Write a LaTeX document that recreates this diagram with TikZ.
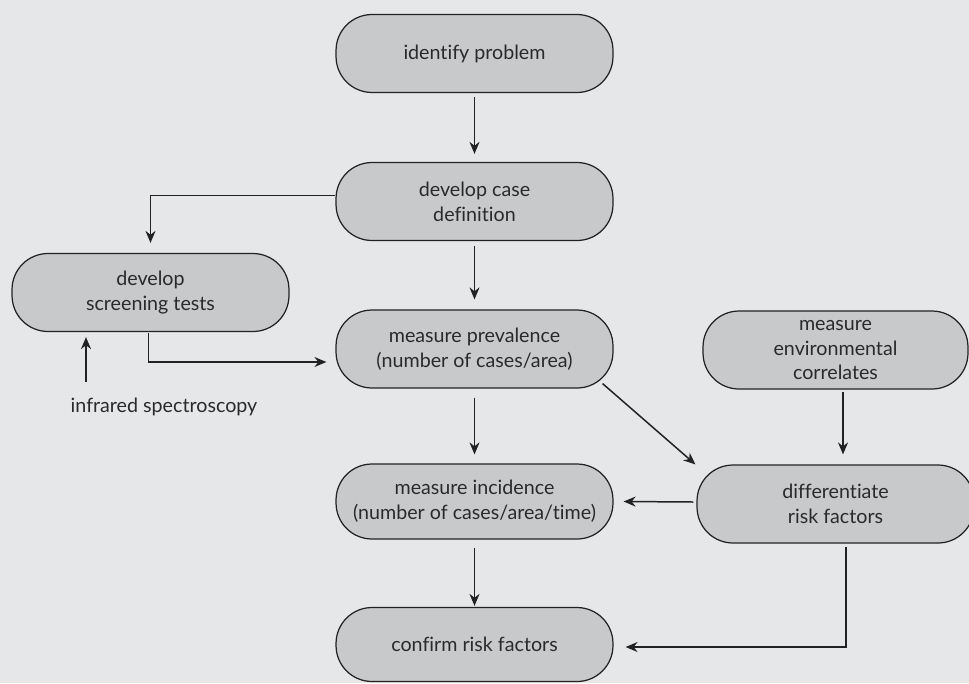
\documentclass[tikz,border=0pt]{standalone}
\usepackage{fontspec}
\setmainfont{Lato}[Ligatures=NoCommon]
\usetikzlibrary{arrows.meta,calc}
\definecolor{bgc}{HTML}{E6E7E9}
\definecolor{boxc}{HTML}{C8C9CB}
\definecolor{txtc}{HTML}{2A2A2A}
\definecolor{linec}{HTML}{222222}
\tikzset{
  stepbox/.style={draw=linec, line width=0.7pt, fill=boxc, rounded corners=0.72cm,
    minimum width=5.54cm, minimum height=1.56cm, align=center, text=txtc,
    font=\fontsize{11.2}{14.2}\selectfont, inner sep=0pt},
  arr/.style={draw=linec, line width=0.85pt, -{Stealth[length=0.24cm,width=0.2cm]}},
  plain/.style={font=\fontsize{11.2}{14.2}\selectfont, text=txtc, inner sep=0pt}
}
\begin{document}
\begin{tikzpicture}[x=0.02cm,y=-0.02cm]
\fill[bgc] (0,0) rectangle (969,683);
\useasboundingbox (0,0) rectangle (969,683);

\node[stepbox] (ip) at (474.5,53.5) {identify problem};
\node[stepbox] (dcd) at (474.5,201.5) {develop case\\definition};
\node[stepbox] (dst) at (150.5,292.5) {develop\\screening tests};
\node[stepbox] (mp) at (474.5,349) {measure prevalence\\(number of cases/area)};
\node[stepbox, minimum width=5.3cm] (env) at (835.5,350) {measure\\environmental\\correlates};
\node[stepbox, minimum height=1.5cm] (mi) at (474.5,501.5) {measure incidence\\(number of cases/area/time)};
\node[stepbox] (diff) at (835.5,504) {differentiate\\risk factors};
\node[stepbox, minimum height=1.48cm] (crf) at (474.5,644.5) {confirm risk factors};
\node[plain] (ir) at (164,407) {infrared spectroscopy};

\draw[arr] ($(ip.south)+(0,4)$) -- ($(dcd.north)+(0,-8)$);
\draw[arr] ($(dcd.west)+(0,-6)$) -| ($(dst.north)+(0,-10)$);
\draw[arr] ($(dcd.south)+(0,5)$) -- ($(mp.north)+(0,-10)$);
\draw[arr] ($(dst.south)+(-2,1)$) |- ($(mp.west)+(-9,13)$);
\draw[arr] ($(ir.north)+(-78,-16)$) -- ($(dst.south)+(-64.5,5)$);
\draw[arr] ($(mp.south)+(0,9)$) -- ($(mi.north)+(0,-9)$);
\draw[arr] ($(mp.south east)+(-11,-5)$) -- ($(diff.north west)+(-1,0)$);
\draw[arr] ($(env.south)+(7.5,2)$) -- ($(diff.north)+(7.5,-10)$);
\draw[arr] ($(diff.west)+(-3,-2)$) -- ($(mi.east)+(10,0)$);
\draw[arr] ($(mi.south)+(0,8)$) -- ($(crf.north)+(0,-1)$);
\draw[arr] ($(diff.south)+(10.5,3)$) |- ($(crf.east)+(12,2.5)$);
\end{tikzpicture}
\end{document}
